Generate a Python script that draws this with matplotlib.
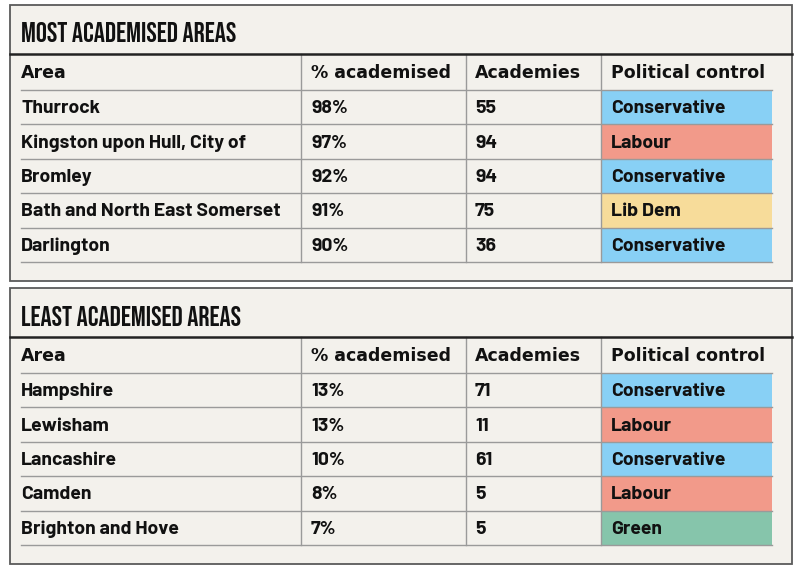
import matplotlib.pyplot as plt
from matplotlib.patches import Rectangle

columns = ["Area", "% academised", "Academies", "Political control"]

most_title = "MOST ACADEMISED AREAS"
most_areas = ["Thurrock", "Kingston upon Hull, City of", "Bromley",
              "Bath and North East Somerset", "Darlington"]
most_pct = [98, 97, 92, 91, 90]
most_academies = [55, 94, 94, 75, 36]
most_party = ["Conservative", "Labour", "Conservative", "Lib Dem", "Conservative"]

least_title = "LEAST ACADEMISED AREAS"
least_areas = ["Hampshire", "Lewisham", "Lancashire", "Camden", "Brighton and Hove"]
least_pct = [13, 13, 10, 8, 7]
least_academies = [71, 11, 61, 5, 5]
least_party = ["Conservative", "Labour", "Conservative", "Labour", "Green"]

party_colors = {
    "Conservative": "#88d0f5",
    "Labour": "#f29a8a",
    "Lib Dem": "#f7dc9a",
    "Green": "#86c5ab",
}

PANEL_BG = "#f3f1ec"
BORDER = "#5a5a5a"
GRID = "#9a9a9a"
TITLE_FONT = ["Bebas Neue", "DejaVu Sans"]
HEAD_FONT = ["DejaVu Sans"]
BODY_FONT = ["Barlow", "DejaVu Sans"]

col_x = [10, 301, 466, 601, 772]  # panel left, column dividers, table right
text_x = [21, 311, 475, 611]


def draw_panel(ax, top, title, areas, pct, academies, party):
    left, right = 10, 792
    title_h = 49
    header_h = 36
    row_h = 34.4
    n = len(areas)
    bottom = top + title_h + header_h + n * row_h + 19
    ax.add_patch(Rectangle((left, top), right - left, bottom - top,
                           facecolor=PANEL_BG, edgecolor=BORDER, linewidth=1.3, zorder=1))
    line_y = top + title_h
    ax.plot([left, right], [line_y, line_y], color="#222222", lw=1.8, zorder=4)
    ax.text(21, top + title_h / 2 + 3, title, fontsize=20, family=TITLE_FONT,
            va="center", ha="left", color="#111111", zorder=5)

    # header
    hy = line_y + header_h / 2 + 1
    for x, c in zip(text_x, columns):
        ax.text(x, hy, c, fontsize=12.5, fontweight="bold", family=HEAD_FONT,
                va="center", ha="left", color="#111111", zorder=5)

    row_tops = [line_y + header_h + i * row_h for i in range(n)]
    table_bottom = row_tops[-1] + row_h

    # party cells
    for y, p in zip(row_tops, party):
        ax.add_patch(Rectangle((col_x[3], y), col_x[4] - col_x[3], row_h,
                               facecolor=party_colors[p], edgecolor="none", zorder=2))

    # horizontal lines
    for y in row_tops + [table_bottom]:
        ax.plot([21, col_x[4]], [y, y], color=GRID, lw=1.0, zorder=3)
    # vertical dividers
    for x in col_x[1:4]:
        ax.plot([x, x], [line_y, table_bottom], color=GRID, lw=1.0, zorder=3)

    for y, a, pc, ac, p in zip(row_tops, areas, pct, academies, party):
        cy = y + row_h / 2 + 1.5
        vals = [a, f"{pc}%", str(ac), p]
        for x, v in zip(text_x, vals):
            ax.text(x, cy, v, fontsize=14, fontweight="bold", family=BODY_FONT,
                    va="center", ha="left", color="#111111", zorder=5)


fig = plt.figure(figsize=(8, 5.75), dpi=100)
ax = fig.add_axes([0, 0, 1, 1])
ax.set_xlim(0, 800)
ax.set_ylim(575, 0)
ax.axis("off")

draw_panel(ax, 5, most_title, most_areas, most_pct, most_academies, most_party)
draw_panel(ax, 288, least_title, least_areas, least_pct, least_academies, least_party)

fig.savefig("out.png", dpi=100, facecolor="white")
